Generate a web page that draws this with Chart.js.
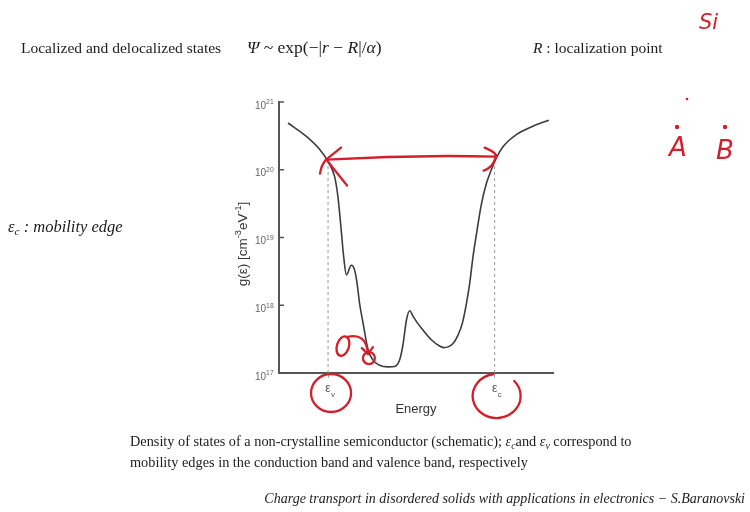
<!DOCTYPE html>
<html><head><meta charset="utf-8">
<script src="https://cdn.jsdelivr.net/npm/chart.js@4"></script>
<style>
html,body{margin:0;padding:0;background:#fff;width:750px;height:512px;overflow:hidden;}
#wrap{position:absolute;left:0;top:0;width:750px;height:512px;}
.t{position:absolute;white-space:nowrap;line-height:1;font-family:"Liberation Serif","Times New Roman",serif;color:#1c1c1c;}
.t sub{font-size:0.68em;vertical-align:-0.28em;line-height:0;}
.h{position:absolute;white-space:nowrap;line-height:1;color:#d21f2b;font-family:"DejaVu Sans",sans-serif;font-style:italic;}
</style></head><body>
<div id="wrap"><canvas id="c" width="750" height="512"></canvas></div>
<div class="t" style="left:21px;top:40px;font-size:15.5px">Localized and delocalized states</div>
<div class="t" style="left:247px;top:39px;font-size:17.5px"><i>Ψ</i> ~ exp(−|<i>r</i> − <i>R</i>|/<i>α</i>)</div>
<div class="t" style="left:533px;top:40px;font-size:15.5px"><i>R</i> : localization point</div>
<div class="t" style="left:8px;top:219px;font-size:16.5px;font-style:italic">ε<sub>c</sub> : mobility edge</div>
<div class="t" style="left:130px;top:434px;font-size:14.3px">Density of states of a non-crystalline semiconductor (schematic); <i>ε<sub>c</sub></i>and <i>ε<sub>v</sub></i> correspond to</div>
<div class="t" style="left:130px;top:455px;font-size:14.3px">mobility edges in the conduction band and valence band, respectively</div>
<div class="t" style="right:5px;top:492px;font-size:14px;font-style:italic">Charge transport in disordered solids with applications in electronics − S.Baranovski</div>
<div class="h" style="left:699px;top:12px;font-size:21px">Si</div>
<div class="h" style="left:669px;top:134px;font-size:26px">A</div>
<div class="h" style="left:716px;top:137px;font-size:26px">B</div>
<script>
// Energy (arbitrary units 0..100) and density of states g(ε) [cm^-3 eV^-1]
const energy = [3.3,10.0,14.8,17.9,20.3,21.5,22.7,23.6,24.6,26.4,27.6,28.5,29.4,30.7,32.5,34.3,36.7,39.8,42.2,44.0,45.3,46.5,47.7,49.0,50.5,52.6,55.6,58.6,60.1,61.7,63.5,65.3,66.9,68.4,69.6,70.8,72.3,73.8,75.7,77.5,78.7,81.8,86.6,92.7,98.5];
const dos = [4.9e20,3.1e20,2.0e20,1.32e20,7.9e19,4.0e19,1.29e19,5.2e18,2.8e18,3.9e18,3.3e18,2.1e18,1.07e18,5.4e17,2.2e17,1.55e17,1.3e17,1.23e17,1.25e17,1.55e17,2.7e17,6.0e17,8.3e17,6.8e17,5.5e17,4.27e17,3.1e17,2.5e17,2.37e17,2.43e17,2.72e17,3.6e17,5.4e17,1.06e18,2.1e18,5.2e18,1.29e19,3.0e19,6.3e19,1.0e20,1.32e20,2.2e20,3.3e20,4.4e20,5.4e20];
// mobility edges εv, εc
const edgeEnergy = [17.9, 78.7];
const edgeDos = [1.32e20, 1.32e20];
const edgeSub = ['v', 'c'];
// y ticks
const yTicks = [1e17, 1e18, 1e19, 1e20, 1e21];
const yExp = ['17', '18', '19', '20', '21'];

const RED = '#d21f2b';

function drawRich(c, segs, x, y, size, family, color) {
  let cx = x;
  c.fillStyle = color;
  c.textBaseline = 'alphabetic';
  c.textAlign = 'left';
  for (const s of segs) {
    const fs = s.sup ? size * 0.68 : size;
    c.font = fs + 'px ' + family;
    c.fillText(s.t, cx, s.sup ? y - size * 0.42 : y);
    cx += c.measureText(s.t).width;
  }
  return cx - x;
}
function richWidth(c, segs, size, family) {
  let w = 0;
  for (const s of segs) {
    c.font = (s.sup ? size * 0.68 : size) + 'px ' + family;
    w += c.measureText(s.t).width;
  }
  return w;
}

const decor = {
  id: 'decor',
  afterDraw(chart) {
    const c = chart.ctx, xs = chart.scales.x, ys = chart.scales.y;
    const left = chart.chartArea.left, bottom = chart.chartArea.bottom;
    const fam = '"Liberation Sans", Arial, sans-serif';
    c.save();
    // inward y ticks and labels
    c.strokeStyle = '#555'; c.lineWidth = 1.5;
    yTicks.forEach((v, i) => {
      const y = ys.getPixelForValue(v);
      c.beginPath(); c.moveTo(left, y); c.lineTo(left + 5, y); c.stroke();
      drawRich(c, [{t: '10'}, {t: yExp[i], sup: true}], left - 24, y + 6.5, 10, fam, '#666');
    });
    // x tick labels ε_v, ε_c
    edgeEnergy.forEach((v, i) => {
      const x = xs.getPixelForValue(v);
      c.fillStyle = '#555'; c.textAlign = 'center'; c.textBaseline = 'alphabetic';
      c.font = '12px ' + fam;
      c.fillText('ε', x, bottom + 19);
      c.font = '8px ' + fam; c.textAlign = 'left';
      c.fillText(edgeSub[i], x + 3, bottom + 24);
    });
    // y axis title
    const segs = [{t: 'g(ε) [cm'}, {t: '-3', sup: true}, {t: 'eV'}, {t: '-1', sup: true}, {t: ']'}];
    c.save();
    c.translate(left - 37, 244);
    c.rotate(-Math.PI / 2);
    const w = richWidth(c, segs, 13.5, fam);
    drawRich(c, segs, -w / 2, 5, 13.5, fam, '#333');
    c.restore();

    // red hand-drawn annotations
    c.strokeStyle = RED; c.fillStyle = RED; c.lineWidth = 2.3; c.lineCap = 'round'; c.lineJoin = 'round';
    const xv = xs.getPixelForValue(edgeEnergy[0]), xc = xs.getPixelForValue(edgeEnergy[1]);
    const ye = ys.getPixelForValue(edgeDos[0]) - 2;
    // double arrow between mobility edges
    c.beginPath(); c.moveTo(xv - 1, ye); c.quadraticCurveTo((xv + xc) / 2, ye - 5, xc + 1, ye - 3); c.stroke();
    c.beginPath(); c.moveTo(xv + 13, ye - 12); c.lineTo(xv - 2, ye); c.quadraticCurveTo(xv - 7, ye + 6, xv - 8, ye + 14); c.stroke();
    c.beginPath(); c.moveTo(xv - 1, ye + 1); c.lineTo(xv + 19, ye + 26); c.stroke();
    c.beginPath(); c.moveTo(xc - 10, ye - 12); c.quadraticCurveTo(xc + 4, ye - 6, xc + 1, ye - 2); c.quadraticCurveTo(xc - 2, ye + 8, xc - 11, ye + 11); c.stroke();
    // circle around ε_v
    c.beginPath(); c.ellipse(xv + 3, bottom + 20, 20, 19, 0, 0, Math.PI * 2); c.stroke();
    // open circle around ε_c
    c.beginPath(); c.ellipse(xc + 2, bottom + 23, 24, 22, 0, -Math.PI / 2 - 0.15, -0.75, true); c.stroke();
    // curly arrow near the band-gap bottom
    const xa = xs.getPixelForValue(21.5), ya = ys.getPixelForValue(1.9e17);
    c.beginPath(); c.ellipse(xa + 5, ya - 8, 6, 10, 0.3, 0, Math.PI * 2); c.stroke();
    c.beginPath(); c.moveTo(xa + 9, ya - 17); c.quadraticCurveTo(xa + 28, ya - 22, xa + 30, ya - 1); c.stroke();
    c.beginPath(); c.ellipse(xa + 31, ya + 4, 6, 6, 0, 0, Math.PI * 2); c.stroke();
    c.beginPath(); c.moveTo(xa + 24, ya - 6); c.lineTo(xa + 30, ya); c.lineTo(xa + 35, ya - 7); c.stroke();
    // dots near A, B
    [[687, 99, 1.3], [677, 127, 2.2], [725, 127, 2.2]].forEach(d => { c.beginPath(); c.arc(d[0], d[1], d[2], 0, Math.PI * 2); c.fill(); });
    c.restore();
  }
};

new Chart(document.getElementById('c'), {
  type: 'line',
  data: {
    datasets: [
      {data: energy.map((x, i) => ({x: x, y: dos[i]})), borderColor: '#3c3c3c', borderWidth: 1.6, pointRadius: 0, cubicInterpolationMode: 'monotone', fill: false},
      ...edgeEnergy.map((x, i) => ({data: [{x: x, y: yTicks[0]}, {x: x, y: edgeDos[i]}], borderColor: '#9a9a9a', borderWidth: 1, borderDash: [3, 3], pointRadius: 0, fill: false}))
    ]
  },
  options: {
    responsive: false, animation: false, devicePixelRatio: 1,
    layout: {padding: {left: 232, top: 102, right: 197, bottom: 91}},
    plugins: {legend: {display: false}, tooltip: {enabled: false}},
    scales: {
      x: {
        type: 'linear', min: 0, max: 100,
        afterFit(s) { s.height = 48; },
        afterBuildTicks(s) { s.ticks = edgeEnergy.map(v => ({value: v})); },
        grid: {drawOnChartArea: false, drawTicks: true, tickLength: 5, color: '#aaa', lineWidth: 1},
        border: {display: true, color: '#555', width: 2},
        ticks: {callback: () => '', padding: 0},
        title: {display: true, text: 'Energy', font: {family: '"Liberation Sans", Arial, sans-serif', size: 13}, color: '#333', padding: {top: 0, bottom: 4}}
      },
      y: {
        type: 'logarithmic', min: 1e17, max: 1e21,
        afterFit(s) { s.width = 47; },
        afterBuildTicks(s) { s.ticks = yTicks.map(v => ({value: v})); },
        grid: {display: false},
        border: {display: true, color: '#555', width: 2},
        ticks: {display: false}
      }
    }
  },
  plugins: [decor]
});
</script>
</body></html>
